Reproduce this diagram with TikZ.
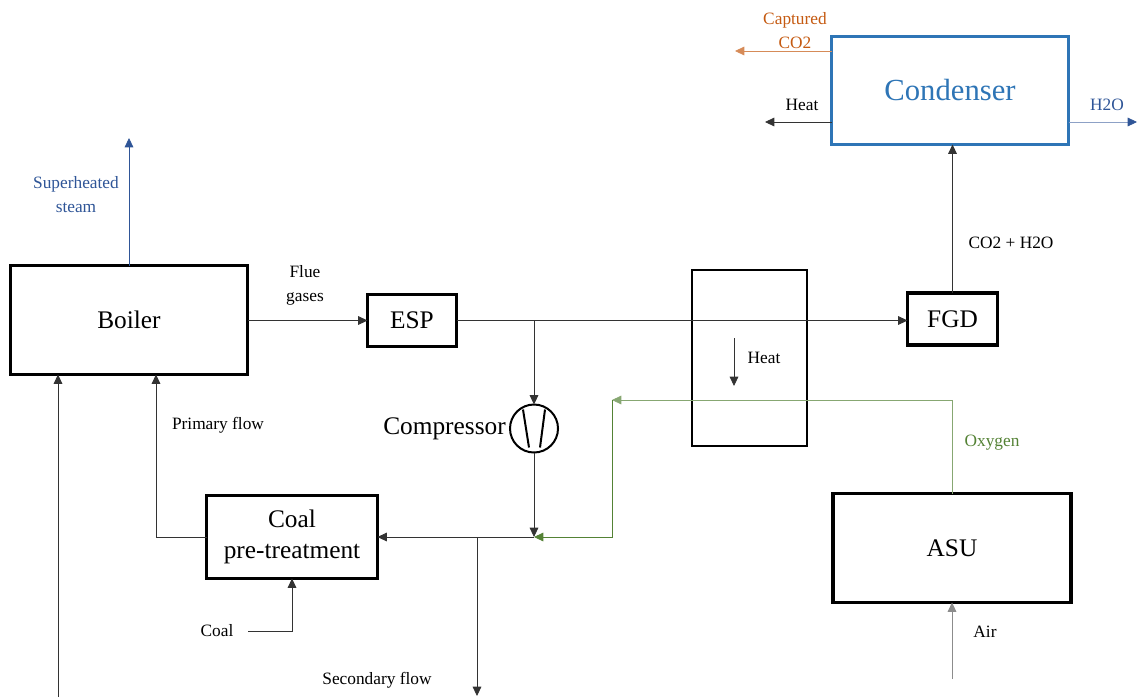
\documentclass[tikz,border=0pt]{standalone}
\usepackage{fontspec}
\setmainfont{Liberation Serif}
\usepackage{xcolor}
\usetikzlibrary{arrows.meta, positioning}
\definecolor{condblue}{HTML}{2E75B6}
\definecolor{steamblue}{HTML}{2F5597}
\definecolor{co2orange}{HTML}{C55A11}
\definecolor{oxgreen}{HTML}{548235}
\newcommand{\pxu}{0.75pt}

\begin{document}
\begin{tikzpicture}[
    x=0.75pt, y=-0.75pt,
    >={Triangle[length=7pt, width=6.5pt]},
    box/.style={rectangle, draw=black, line width=2.3pt, outer sep=0pt, inner sep=0pt, align=center, font=\fontsize{19}{23}\selectfont},
    thinbox/.style={rectangle, draw=black, line width=1.5pt, outer sep=0pt, inner sep=0pt},
    arr/.style={->, line width=0.6pt, color=black!80},
    lbl/.style={font=\fontsize{13}{18}\selectfont, align=center, inner sep=0pt}
]
\useasboundingbox (0,0) rectangle (1137,697);

% Main units
\node[box, minimum width=237*\pxu, minimum height=109*\pxu] (boiler) at (129,320) {Boiler};
\node[box, minimum width=89*\pxu, minimum height=52*\pxu] (esp) at (412,320.5) {ESP};
\node[box, minimum width=90*\pxu, minimum height=52*\pxu] (fgd) at (952.5,319) {FGD};
\node[box, minimum width=171*\pxu, minimum height=83*\pxu] (coal) at (292,537) {Coal\\pre-treatment};
\node[box, minimum width=238*\pxu, minimum height=109*\pxu] (asu) at (952,548) {ASU};
\node[box, draw=condblue, text=condblue, minimum width=237*\pxu, minimum height=108*\pxu, font=\fontsize{23}{27}\selectfont] (cond) at (950,90.5) {Condenser};
\node[thinbox, minimum width=115*\pxu, minimum height=176*\pxu] (hx) at (749.5,357.5) {};

% Compressor
\node[circle, draw=black, line width=1.5pt, minimum size=48*\pxu, inner sep=0pt, outer sep=0pt] (comp) at (534,428.5) {};
\draw[line width=1.5pt] ([shift={(-11,-19)}]comp.center) -- ([shift={(-5,19)}]comp.center);
\draw[line width=1.5pt] ([shift={(11,-19)}]comp.center) -- ([shift={(6,19)}]comp.center);

% Junctions and free ends
\coordinate (split) at (534,320);
\coordinate (merge) at (534,537);
\coordinate (secsplit) at (477,537);
\coordinate (secend) at (477,696);
\coordinate (steamend) at (129,138);
\coordinate (co2end) at (735,51);
\coordinate (heatend) at (765,122);
\coordinate (h2oend) at (1137,122);
\coordinate (oxbend) at (612,400);
\coordinate (oxdown) at (612,537);
\coordinate (coalin) at (248,632);
\coordinate (airin) at (952,679);
\coordinate (leftin) at (58,697);
\coordinate (primbend) at (156,537);
\coordinate (heatA) at (734,338);
\coordinate (heatB) at (734,386);

% ---- ARROWS ----
% Gas line
\draw[arr] (boiler.east |- esp.west) -- (esp.west);
\draw[arr] (esp.east) -- (esp.east -| fgd.west);
\draw[arr] (fgd.north) -- (fgd.north |- cond.south);

% Recycle through compressor
\draw[arr] (split) -- (comp.north);
\draw[arr] (comp.south) -- (merge);
\draw[arr] (merge) -- (merge -| coal.east);
\draw[arr] (secsplit) -- (secend);

% Boiler feeds
\draw[arr] (coal.west) -- (primbend) -- (primbend |- boiler.south);
\draw[arr] (coalin) -- ++(0,-1) -| (coal.south);
\draw[arr] (leftin) -- (leftin |- boiler.south);
\draw[->, line width=0.6pt, color=steamblue] (boiler.north) -- (steamend);

% Oxygen line
\draw[->, line width=0.6pt, color=oxgreen!70] (asu.north) -- (asu.north |- oxbend) -- (oxbend);
\draw[->, line width=0.6pt, color=oxgreen] (oxbend) -- (oxdown) -- (merge);
\draw[->, line width=0.6pt, color=black!45] (airin) -- (airin -| asu.south) -- (asu.south);

% Condenser outlets
\draw[->, line width=0.6pt, color=co2orange!70] (cond.west |- co2end) -- (co2end);
\draw[arr] (cond.west |- heatend) -- (heatend);
\draw[line width=0.6pt, color=steamblue!55, -{Triangle[length=7pt, width=6.5pt, color=steamblue]}] (cond.east |- h2oend) -- (h2oend);

% Heat inside exchanger
\draw[arr] (heatA) -- (heatB);

% Labels
\node[lbl, text=steamblue] (steamlbl) at (76,195) {Superheated\\steam};
\node[lbl] (fluelbl) at (305,285) {Flue\\gases};
\node[lbl] (primlbl) at (218,425) {Primary flow};
\node[font=\fontsize{19}{23}\selectfont, inner sep=0pt, left=3pt of comp] (complbl) {Compressor};
\node[lbl] (coallbl) at (217,631) {Coal};
\node[lbl] (seclbl) at (377,680) {Secondary flow};
\node[lbl] (hxlbl) at (764,358) {Heat};
\node[lbl, text=oxgreen] (oxlbl) at (992,443) {Oxygen};
\node[lbl] (airlbl) at (985,632) {Air};
\node[lbl] (gaslbl) at (1011,243) {CO2 + H2O};
\node[lbl] (heatlbl) at (802,105) {Heat};
\node[lbl, text=steamblue] (h2olbl) at (1107,105) {H2O};
\node[lbl, text=co2orange] (co2lbl) at (795,31) {Captured\\CO2};

\end{tikzpicture}
\end{document}
